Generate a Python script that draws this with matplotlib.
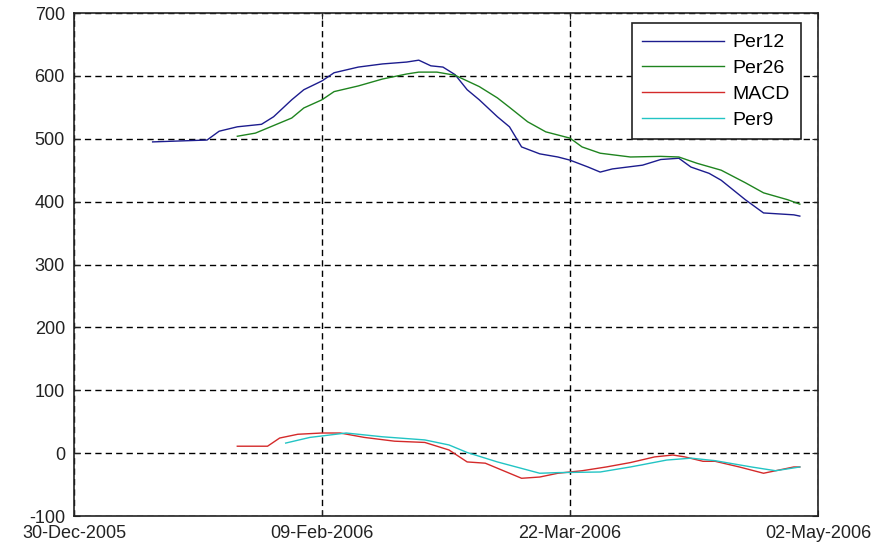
import numpy as np
import matplotlib
matplotlib.use('Agg')
import matplotlib.pyplot as plt
import matplotlib.dates as mdates

plt.rcParams['font.family'] = ['Liberation Sans', 'DejaVu Sans']
plt.rcParams['axes.unicode_minus'] = False

base = np.datetime64('2005-12-30')

# days after 30-Dec-2005 and values
per12_days = [13, 22, 24, 27, 31, 33, 36, 38, 41, 43, 47, 51, 55, 57, 59, 61, 63, 65, 67, 70,
              72, 74, 77, 80, 82, 85, 87, 89, 94, 97, 100, 102, 105, 107, 111, 114, 119, 120]
per12 = [495, 498, 512, 519, 523, 535, 562, 578, 592, 605, 614, 619, 622, 625, 616, 614, 602, 578, 562, 535,
         519, 487, 476, 471, 466, 455, 447, 452, 458, 467, 469, 455, 445, 434, 403, 382, 379, 377]

per26_days = [27, 30, 32, 36, 38, 41, 43, 47, 51, 55, 57, 60, 63, 67, 70, 72, 75, 78, 82, 84,
              87, 92, 97, 100, 103, 107, 111, 114, 118, 120]
per26 = [504, 509, 517, 533, 549, 562, 575, 584, 595, 603, 606, 606, 601, 583, 565, 550, 527, 511, 501, 487,
         477, 471, 472, 471, 461, 450, 430, 414, 403, 396]

macd_days = [27, 32, 34, 37, 41, 44, 48, 53, 58, 62, 65, 68, 70, 74, 77, 80, 84, 88, 92, 96,
             99, 101, 104, 106, 110, 114, 117, 119, 120]
macd = [11, 11, 24, 30, 32, 32, 25, 19, 17, 5, -14, -16, -24, -40, -38, -32, -28, -22, -15, -6,
        -3, -6, -13, -13, -22, -32, -26, -22, -22]

per9_days = [35, 39, 45, 51, 58, 62, 65, 70, 77, 80, 87, 92, 98, 102, 106, 112, 116, 120]
per9 = [16, 25, 32, 26, 21, 13, 1, -14, -32, -31, -30, -22, -11, -8, -12, -22, -28, -22]

tick_days = [0, 41, 82, 123]


def to_dates(days):
    return base + np.array(days).astype('timedelta64[D]')


fig = plt.figure(figsize=(8.84, 5.49), dpi=100)
ax = fig.add_axes([0.0837, 0.0601, 0.8416, 0.9162])

ax.plot(to_dates(per12_days), per12, color='#1c1c8e', lw=1.0, label='Per12')
ax.plot(to_dates(per26_days), per26, color='#1f841f', lw=1.0, label='Per26')
ax.plot(to_dates(macd_days), macd, color='#d42a2a', lw=1.0, label='MACD')
ax.plot(to_dates(per9_days), per9, color='#22c4c4', lw=1.0, label='Per9')

ticks = to_dates(tick_days)
ax.set_xlim(ticks[0], ticks[-1])
ax.set_xticks(ticks)
ax.xaxis.set_major_formatter(mdates.DateFormatter('%d-%b-%Y'))
ax.set_ylim(-100, 700)
ax.set_yticks(np.arange(-100, 701, 100))

ax.grid(True, color='black', linestyle=(0, (4.5, 3)), linewidth=1.0)
ax.tick_params(direction='in', length=4, top=True, right=True, labelsize=13,
               colors='#222222', pad=6.5)
for s in ax.spines.values():
    s.set_linewidth(1.2)
    s.set_color('#222222')

leg = ax.legend(loc='upper right', bbox_to_anchor=(0.977, 0.980), borderaxespad=0,
                fontsize=14, frameon=True, fancybox=False, framealpha=1,
                edgecolor='#222222', handlelength=4.2, handletextpad=0.45,
                labelspacing=0.42, borderpad=0.55)
leg.get_frame().set_linewidth(1.2)

fig.savefig('out.png', dpi=100)
